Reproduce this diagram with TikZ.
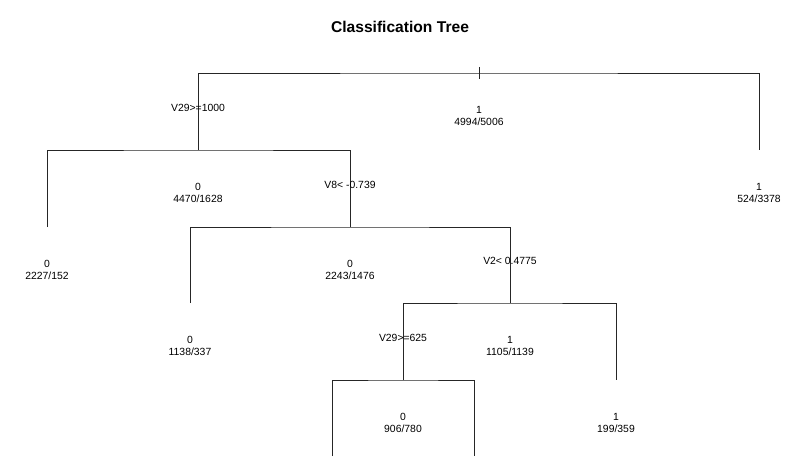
\documentclass[tikz,border=0pt]{standalone}
\usepackage{fontspec}
\setmainfont{Liberation Sans}
\usetikzlibrary{positioning, calc}

\begin{document}
\begin{tikzpicture}[
        x=1pt, y=-1pt,
        branch/.style={draw=black!85, line width=0.8pt},
        lbl/.style={align=center, inner sep=0pt, font=\fontsize{10.4}{12.5}\selectfont},
        splitlbl/.style={inner sep=0pt, font=\fontsize{10.4}{12.5}\selectfont}
    ]
        \useasboundingbox (0,0) rectangle (800,460);

        % Title
        \node[font=\bfseries\fontsize{15.6}{18}\selectfont] (title) at (400,27) {Classification Tree};

        % Tree nodes
        \coordinate (root) at (479,73);
        \coordinate (n2) at (198,150);
        \coordinate (n3) at (759,150);
        \coordinate (n4) at (47,227);
        \coordinate (n5) at (350,227);
        \coordinate (n10) at (190,303);
        \coordinate (n11) at (510,303);
        \coordinate (n22) at (403,380);
        \coordinate (n23) at (616,380);
        \coordinate (n44) at (332,456);
        \coordinate (n45) at (474,456);

        % Branches
        \draw[branch] (n2) |- (root) -| (n3);
        \draw[branch] ($(root)+(0,-6)$) -- ($(root)+(0,6)$);
        \draw[branch] (n4) |- (n2) -| (n5);
        \draw[branch] (n10) |- (n5) -| (n11);
        \draw[branch] (n22) |- (n11) -| (n23);
        \draw[branch] (n44) |- (n22) -| (n45);

        % Split labels
        \node[splitlbl, above=38pt of n2] (s1) {V29>=1000};
        \node[splitlbl, above=38pt of n5] (s2) {V8< -0.739};
        \node[splitlbl, above=38pt of n11] (s3) {V2< 0.4775};
        \node[splitlbl, above=38pt of n22] (s4) {V29>=625};

        % Node labels
        \node[lbl, below=33pt of root] (lroot) {1\\4994/5006};
        \node[lbl, below=33pt of n2] (l2) {0\\4470/1628};
        \node[lbl, below=33pt of n3] (l3) {1\\524/3378};
        \node[lbl, below=33pt of n4] (l4) {0\\2227/152};
        \node[lbl, below=33pt of n5] (l5) {0\\2243/1476};
        \node[lbl, below=33pt of n10] (l10) {0\\1138/337};
        \node[lbl, below=33pt of n11] (l11) {1\\1105/1139};
        \node[lbl, below=33pt of n22] (l22) {0\\906/780};
        \node[lbl, below=33pt of n23] (l23) {1\\199/359};

    \end{tikzpicture}
\end{document}
